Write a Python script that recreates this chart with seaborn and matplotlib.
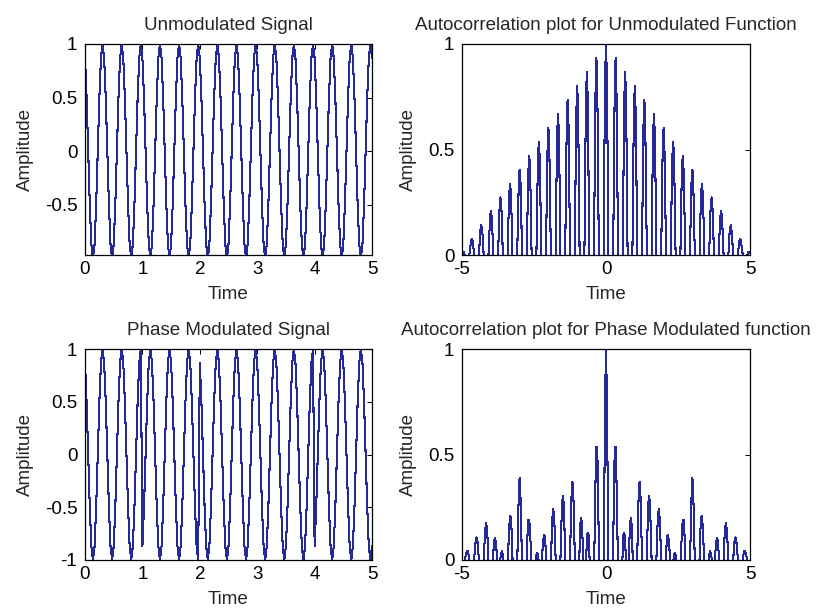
import numpy as np
import matplotlib
matplotlib.use('Agg')
import matplotlib.pyplot as plt
import seaborn as sns

# Datos leidos de la figura
# un periodo de la portadora (12 muestras), niveles de los escalones de la grafica
carrier_period = [0.87, 0.5, 0.0, -0.5, -0.87, -1.0, -0.87, -0.5, 0.0, 0.5, 0.87, 1.0]
samples_per_sec = 36
duration = 5
# signo de la portadora en cada tramo de 1 s (saltos de fase en t=1, 2 y 4)
phase_bits = [1, -1, 1, 1, -1]

time_ticks = [0, 1, 2, 3, 4, 5]
lag_ticks = [-5, 0, 5]
unmod_yticks = [-0.5, 0, 0.5, 1]
pm_yticks = [-1, -0.5, 0, 0.5, 1]
acf_yticks = [0, 0.5, 1]

titles = ['Unmodulated Signal',
          'Autocorrelation plot for Unmodulated Function',
          'Phase Modulated Signal',
          'Autocorrelation plot for Phase Modulated function']

# señales
n = np.arange(duration * samples_per_sec + 1)
t = n / samples_per_sec
unmod = np.resize(np.array(carrier_period), n.size)
slot = np.minimum(n // samples_per_sec, len(phase_bits) - 1)
pm = unmod * np.array(phase_bits)[slot]


def autocorr(x):
    r = np.correlate(x, x, mode='full')
    lags = np.arange(-len(x) + 1, len(x)) / samples_per_sec
    return lags, r / r.max()


lag_u, acf_u = autocorr(unmod)
lag_p, acf_p = autocorr(pm)

sns.set_theme(style='white')
plt.rcParams['font.family'] = ['Liberation Sans', 'DejaVu Sans']
plt.rcParams.update({
    'font.size': 13.5,
    'xtick.direction': 'in', 'ytick.direction': 'in',
    'xtick.top': True, 'ytick.right': True,
    'xtick.major.size': 3.5, 'ytick.major.size': 3.5,
    'xtick.major.width': 0.75, 'ytick.major.width': 0.75,
    'xtick.major.pad': 4.0, 'ytick.major.pad': 5.5,
    'xtick.color': 'black', 'ytick.color': 'black',
    'xtick.labelsize': 13.5, 'ytick.labelsize': 13.5,
    'axes.edgecolor': 'black', 'axes.linewidth': 0.9,
})

fig = plt.figure(figsize=(8.21, 6.12), dpi=100)
W, H = 821, 612
rects = [(85, 44, 372, 255), (462, 44, 750, 255),
         (85, 349, 372, 560), (462, 349, 750, 560)]
axes = [fig.add_axes([l / W, 1 - b / H, (r - l) / W, (b - tp) / H])
        for (l, tp, r, b) in rects]

line_color = '#25299a'
series = [(t, unmod), (lag_u, acf_u), (t, pm), (lag_p, acf_p)]
for ax, (xv, yv), title in zip(axes, series, titles):
    sns.lineplot(x=xv, y=yv, ax=ax, color=line_color, linewidth=0.75,
                 estimator=None, sort=False, antialiased=False)
    ax.set_title(title, fontsize=13.5, pad=10)
    ax.set_xlabel('Time', fontsize=13.5, labelpad=6)
    ax.set_ylabel('Amplitude', fontsize=13.5, labelpad=8)
    for s in ax.spines.values():
        s.set_visible(True)

for ax in (axes[0], axes[2]):
    ax.set_xlim(0, 5)
    ax.set_xticks(time_ticks)
    ax.set_xticklabels([str(v) for v in time_ticks])

axes[0].set_ylim(-0.97, 1)
axes[0].set_yticks(unmod_yticks)
axes[0].set_yticklabels(['-0.5', '0', '0.5', '1'])
axes[2].set_ylim(-1, 1)
axes[2].set_yticks(pm_yticks)
axes[2].set_yticklabels(['-1', '-0.5', '0', '0.5', '1'])

for ax in (axes[1], axes[3]):
    ax.set_xlim(-5, 5)
    ax.set_xticks(lag_ticks)
    ax.set_xticklabels([str(v) for v in lag_ticks])
    ax.set_ylim(0, 1)
    ax.set_yticks(acf_yticks)
    ax.set_yticklabels(['0', '0.5', '1'])

fig.savefig('out.png', dpi=100)
